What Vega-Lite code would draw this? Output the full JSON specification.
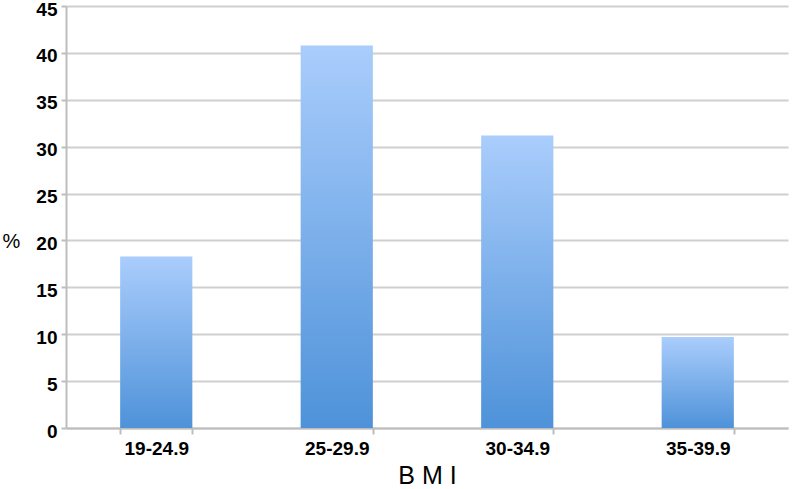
{
  "$schema": "https://vega.github.io/schema/vega-lite/v6.json",
  "autosize": "none",
  "width": 722,
  "height": 422,
  "padding": {"left": 66, "top": 6, "right": 4, "bottom": 61},
  "background": "white",
  "data": {
    "values": [
      {"bmi": "19-24.9", "pct": 18.3},
      {"bmi": "25-29.9", "pct": 40.8},
      {"bmi": "30-34.9", "pct": 31.2},
      {"bmi": "35-39.9", "pct": 9.7}
    ]
  },
  "config": {
    "view": {"stroke": null},
    "font": "Liberation Sans"
  },
  "mark": {
    "type": "bar",
    "color": {
      "gradient": "linear",
      "x1": 0, "y1": 0, "x2": 0, "y2": 1,
      "stops": [
        {"offset": 0, "color": "#aacdfc"},
        {"offset": 1, "color": "#4e92d9"}
      ]
    }
  },
  "encoding": {
    "x": {
      "field": "bmi",
      "type": "nominal",
      "sort": null,
      "scale": {"paddingInner": 0.6, "paddingOuter": 0.3},
      "axis": {
        "title": "B M I",
        "titleFont": "Liberation Sans",
        "titleFontSize": 25,
        "titleFontWeight": "normal",
        "titleColor": "#000000",
        "titlePadding": 5,
        "labelAngle": 0,
        "labelFontSize": 19,
        "labelFontWeight": "bold",
        "labelColor": "#000000",
        "labelPadding": 5,
        "domainColor": "#bdbdbd",
        "domainWidth": 2,
        "tickBand": "extent",
        "tickColor": "#bdbdbd",
        "tickWidth": 2,
        "tickSize": 6,
        "grid": false
      }
    },
    "y": {
      "field": "pct",
      "type": "quantitative",
      "scale": {"domain": [0, 45], "nice": false},
      "axis": {
        "title": "%",
        "titleAngle": 0,
        "titleFontSize": 20,
        "titleFontWeight": "normal",
        "titleColor": "#000000",
        "titleX": -55,
        "titleY": 235,
        "titleAlign": "center",
        "titleBaseline": "middle",
        "values": [0, 5, 10, 15, 20, 25, 30, 35, 40, 45],
        "labelFontSize": 19,
        "labelFontWeight": "bold",
        "labelColor": "#000000",
        "labelPadding": 4,
        "labelOffset": 3,
        "domainColor": "#bdbdbd",
        "domainWidth": 2,
        "tickColor": "#bdbdbd",
        "tickWidth": 2,
        "tickSize": 5,
        "gridColor": "#cfcfcf",
        "gridWidth": 2
      }
    }
  }
}
